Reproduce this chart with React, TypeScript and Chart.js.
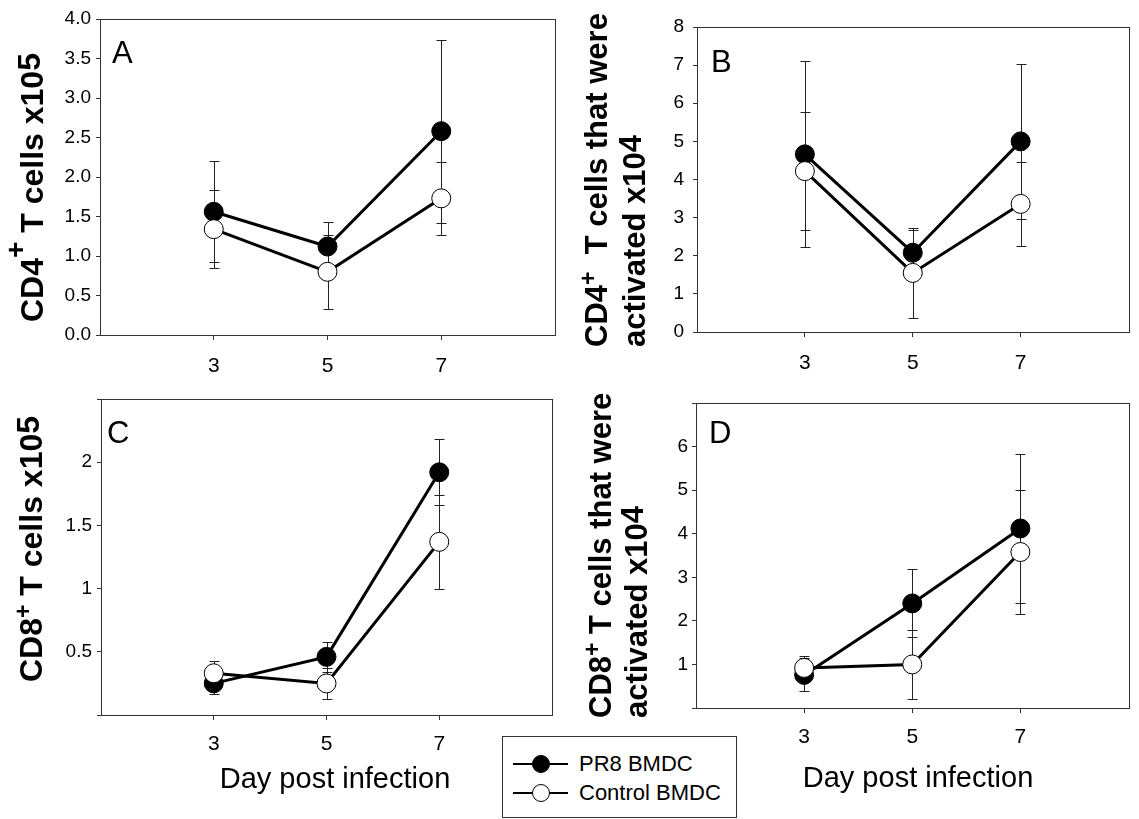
import React, { useEffect, useRef } from 'react';
import { Chart, registerables } from 'chart.js';
Chart.register(...registerables);

// ---------- data ----------
const days = [3, 5, 7];
const dayTicks = [3, 5, 7];

const aPR8 = [1.56, 1.12, 2.58];
const aPR8Err = [0.64, 0.31, 1.16];
const aCtrl = [1.34, 0.8, 1.73];
const aCtrlErr = [0.49, 0.47, 0.46];
const aYTicks = [0, 0.5, 1, 1.5, 2, 2.5, 3, 3.5, 4];
const aYLabels = ['0.0', '0.5', '1.0', '1.5', '2.0', '2.5', '3.0', '3.5', '4.0'];

const bPR8 = [4.66, 2.08, 5.0];
const bPR8Err = [2.44, 0.6, 2.03];
const bCtrl = [4.22, 1.55, 3.36];
const bCtrlErr = [1.55, 1.17, 1.1];
const bYTicks = [0, 1, 2, 3, 4, 5, 6, 7, 8];
const bYLabels = ['0', '1', '2', '3', '4', '5', '6', '7', '8'];

const cPR8 = [0.25, 0.46, 1.92];
const cPR8Err = [0.08, 0.12, 0.26];
const cCtrl = [0.33, 0.25, 1.37];
const cCtrlErr = [0.1, 0.12, 0.37];
const cYTicks = [0, 0.5, 1, 1.5, 2, 2.5];
const cYLabels = ['', '0.5', '1', '1.5', '2', ''];

const dPR8 = [0.76, 2.4, 4.12];
const dPR8Err = [0.38, 0.78, 1.7];
const dCtrl = [0.92, 1.0, 3.58];
const dCtrlErr = [0.28, 0.8, 1.42];
const dYTicks = [0, 1, 2, 3, 4, 5, 6, 7];
const dYLabels = ['', '1', '2', '3', '4', '5', '6', ''];

const seriesNames = ['PR8 BMDC', 'Control BMDC'];
const xTitle = 'Day post infection';

const FONT = '"Liberation Sans", Arial, Helvetica, sans-serif';

type Seg = { t: string; size: number; rise?: number };

function drawRich(ctx: CanvasRenderingContext2D, segs: Seg[], x: number, y: number) {
  ctx.save();
  ctx.translate(x, y);
  ctx.rotate(-Math.PI / 2);
  ctx.textBaseline = 'alphabetic';
  ctx.textAlign = 'left';
  ctx.fillStyle = '#000';
  let cx = 0;
  for (const s of segs) {
    ctx.font = `bold ${s.size}px ${FONT}`;
    ctx.fillText(s.t, cx, -(s.rise || 0));
    cx += ctx.measureText(s.t).width;
  }
  ctx.restore();
}

type Cfg = {
  left: number; top: number; width: number; height: number;
  yMin: number; yMax: number; yTicks: number[]; yLabels: string[];
  pr8: number[]; pr8Err: number[]; ctrl: number[]; ctrlErr: number[];
  yAxisW: number; xAxisH: number; padTop: number; padRight: number;
  yPad: number; xPad: number;
  letter: string; letterX: number; letterY: number;
  ylabel: { x: number; y: number; segs: Seg[] }[];
  xtitle?: { x: number; y: number };
};

const panels: Cfg[] = [
  {
    left: 0, top: 0, width: 570, height: 380,
    yMin: 0, yMax: 4, yTicks: aYTicks, yLabels: aYLabels,
    pr8: aPR8, pr8Err: aPR8Err, ctrl: aCtrl, ctrlErr: aCtrlErr,
    yAxisW: 100, xAxisH: 45, padTop: 19, padRight: 15, yPad: 5, xPad: 14,
    letter: 'A', letterX: 112, letterY: 63,
    ylabel: [{ x: 43, y: 322, segs: [
      { t: 'CD4', size: 32 }, { t: '+', size: 28, rise: 18 }, { t: ' T cells x10', size: 32 }, { t: '5', size: 32, rise: 3 },
    ] }],
  },
  {
    left: 570, top: 0, width: 569, height: 380,
    yMin: 0, yMax: 8, yTicks: bYTicks, yLabels: bYLabels,
    pr8: bPR8, pr8Err: bPR8Err, ctrl: bCtrl, ctrlErr: bCtrlErr,
    yAxisW: 127, xAxisH: 48, padTop: 27, padRight: 7, yPad: 9, xPad: 14,
    letter: 'B', letterX: 141, letterY: 72,
    ylabel: [
      { x: 37, y: 347, segs: [{ t: 'CD4', size: 31 }, { t: '+', size: 23, rise: 11 }, { t: '  T cells that were', size: 31 }] },
      { x: 75, y: 347, segs: [{ t: 'activated x10', size: 31 }, { t: '4', size: 31, rise: 4 }] },
    ],
  },
  {
    left: 0, top: 380, width: 570, height: 439,
    yMin: 0, yMax: 2.5, yTicks: cYTicks, yLabels: cYLabels,
    pr8: cPR8, pr8Err: cPR8Err, ctrl: cCtrl, ctrlErr: cCtrlErr,
    yAxisW: 101, xAxisH: 104, padTop: 19, padRight: 18, yPad: 5, xPad: 12,
    letter: 'C', letterX: 107, letterY: 63,
    ylabel: [{ x: 42, y: 302, segs: [
      { t: 'CD8', size: 32 }, { t: '+', size: 23, rise: 11 }, { t: ' T cells x10', size: 32 }, { t: '5', size: 32, rise: 3 },
    ] }],
    xtitle: { x: 335, y: 788 - 380 },
  },
  {
    left: 570, top: 380, width: 569, height: 439,
    yMin: 0, yMax: 7, yTicks: dYTicks, yLabels: dYLabels,
    pr8: dPR8, pr8Err: dPR8Err, ctrl: dCtrl, ctrlErr: dCtrlErr,
    yAxisW: 126, xAxisH: 111, padTop: 23, padRight: 8, yPad: 4, xPad: 12,
    letter: 'D', letterX: 139, letterY: 63,
    ylabel: [
      { x: 41, y: 338, segs: [{ t: 'CD8', size: 31 }, { t: '+', size: 23, rise: 11 }, { t: ' T cells that were', size: 31 }] },
      { x: 77, y: 338, segs: [{ t: 'activated x10', size: 31 }, { t: '4', size: 31, rise: 4 }] },
    ],
    xtitle: { x: 348, y: 787 - 380 },
  },
];

const errorBars = {
  id: 'errorBars',
  beforeDatasetsDraw(chart: any) {
    const ctx = chart.ctx;
    const xs = chart.scales.x;
    const ys = chart.scales.y;
    ctx.save();
    ctx.strokeStyle = '#222';
    ctx.lineWidth = 1;
    chart.data.datasets.forEach((ds: any) => {
      const errs: number[] = ds.errs;
      if (!errs) return;
      ds.data.forEach((p: any, i: number) => {
        const x = Math.round(xs.getPixelForValue(p.x)) + 0.5;
        const yt = Math.round(ys.getPixelForValue(p.y + errs[i])) + 0.5;
        const yb = Math.round(ys.getPixelForValue(p.y - errs[i])) + 0.5;
        ctx.beginPath();
        ctx.moveTo(x, yt); ctx.lineTo(x, yb);
        ctx.moveTo(x - 5, yt); ctx.lineTo(x + 5, yt);
        ctx.moveTo(x - 5, yb); ctx.lineTo(x + 5, yb);
        ctx.stroke();
      });
    });
    ctx.restore();
  },
};

function Panel({ cfg }: { cfg: Cfg }) {
  const ref = useRef<HTMLCanvasElement | null>(null);
  useEffect(() => {
    const decor = {
      id: 'decor',
      afterDraw(chart: any) {
        const ctx = chart.ctx as CanvasRenderingContext2D;
        const { left, top, right, bottom } = chart.chartArea;
        ctx.save();
        ctx.strokeStyle = '#333';
        ctx.lineWidth = 1;
        ctx.strokeRect(Math.round(left) + 0.5, Math.round(top) + 0.5, Math.round(right - left), Math.round(bottom - top));
        ctx.fillStyle = '#000';
        ctx.textBaseline = 'alphabetic';
        ctx.textAlign = 'left';
        ctx.font = `31px ${FONT}`;
        ctx.fillText(cfg.letter, cfg.letterX, cfg.letterY);
        if (cfg.xtitle) {
          ctx.textAlign = 'center';
          ctx.font = `29px ${FONT}`;
          ctx.fillText(xTitle, cfg.xtitle.x, cfg.xtitle.y);
        }
        ctx.restore();
        cfg.ylabel.forEach((l) => drawRich(ctx, l.segs, l.x, l.y));
      },
    };
    const mk = (vals: number[]) => days.map((d, i) => ({ x: d, y: vals[i] }));
    const chart = new Chart(ref.current as HTMLCanvasElement, {
      type: 'line',
      data: {
        datasets: [
          {
            label: seriesNames[0], data: mk(cfg.pr8), errs: cfg.pr8Err, order: 1,
            borderColor: '#000', borderWidth: 3, tension: 0, fill: false,
            pointRadius: 9.5, pointHoverRadius: 9.5, pointBackgroundColor: '#000', pointBorderColor: '#000', pointBorderWidth: 1,
          } as any,
          {
            label: seriesNames[1], data: mk(cfg.ctrl), errs: cfg.ctrlErr, order: 0,
            borderColor: '#000', borderWidth: 3, tension: 0, fill: false,
            pointRadius: 9.5, pointHoverRadius: 9.5, pointBackgroundColor: '#fff', pointBorderColor: '#000', pointBorderWidth: 1,
          } as any,
        ],
      },
      options: {
        responsive: false,
        animation: false,
        events: [],
        devicePixelRatio: 1,
        layout: { padding: { left: 0, top: cfg.padTop, right: cfg.padRight, bottom: 0 } },
        plugins: { legend: { display: false }, tooltip: { enabled: false } },
        scales: {
          x: {
            type: 'linear', min: 1, max: 9,
            afterBuildTicks: (s: any) => { s.ticks = dayTicks.map((v) => ({ value: v })); },
            afterFit: (s: any) => { s.height = cfg.xAxisH; },
            grid: { display: true, drawOnChartArea: false, drawTicks: true, tickLength: 5, color: '#333' },
            border: { display: true, color: '#333', width: 1 },
            ticks: { color: '#000', padding: cfg.xPad, autoSkip: false, maxRotation: 0, font: { family: FONT, size: 21 } },
          },
          y: {
            type: 'linear', min: cfg.yMin, max: cfg.yMax,
            afterBuildTicks: (s: any) => { s.ticks = cfg.yTicks.map((v) => ({ value: v })); },
            afterFit: (s: any) => { s.width = cfg.yAxisW; },
            grid: { display: true, drawOnChartArea: false, drawTicks: true, tickLength: 4, color: '#333' },
            border: { display: true, color: '#333', width: 1 },
            ticks: {
              color: '#000', padding: cfg.yPad, autoSkip: false, font: { family: FONT, size: 19 },
              callback: (_v: any, i: number) => cfg.yLabels[i],
            },
          },
        },
      } as any,
      plugins: [errorBars, decor],
    });
    return () => chart.destroy();
  }, []);
  return (
    <canvas
      ref={ref}
      width={cfg.width}
      height={cfg.height}
      style={{ position: 'absolute', left: cfg.left, top: cfg.top, width: cfg.width, height: cfg.height }}
    />
  );
}

function LegendRow({ filled, label, top }: { filled: boolean; label: string; top: number }) {
  return (
    <div style={{ position: 'absolute', left: 0, top: top - 14, height: 28, width: 233 }}>
      <div style={{ position: 'absolute', left: 10, top: 13, width: 55, height: 2, background: '#000' }} />
      <div
        style={{
          position: 'absolute', left: 38 - 9, top: 14 - 9, width: 16, height: 16, borderRadius: '50%',
          background: filled ? '#000' : '#fff', border: '1px solid #000',
        }}
      />
      <div style={{ position: 'absolute', left: 76, top: 1, fontFamily: FONT, fontSize: 22, lineHeight: '25px', color: '#000', whiteSpace: 'nowrap' }}>
        {label}
      </div>
    </div>
  );
}

export default function App() {
  return (
    <div style={{ position: 'absolute', left: 0, top: 0, width: 1139, height: 819, background: '#fff', overflow: 'hidden' }}>
      {panels.map((p, i) => (
        <Panel key={i} cfg={p} />
      ))}
      <div style={{ position: 'absolute', left: 502, top: 736, width: 233, height: 80, border: '1px solid #333', background: '#fff' }}>
        <LegendRow filled={true} label={seriesNames[0]} top={27} />
        <LegendRow filled={false} label={seriesNames[1]} top={56} />
      </div>
    </div>
  );
}
